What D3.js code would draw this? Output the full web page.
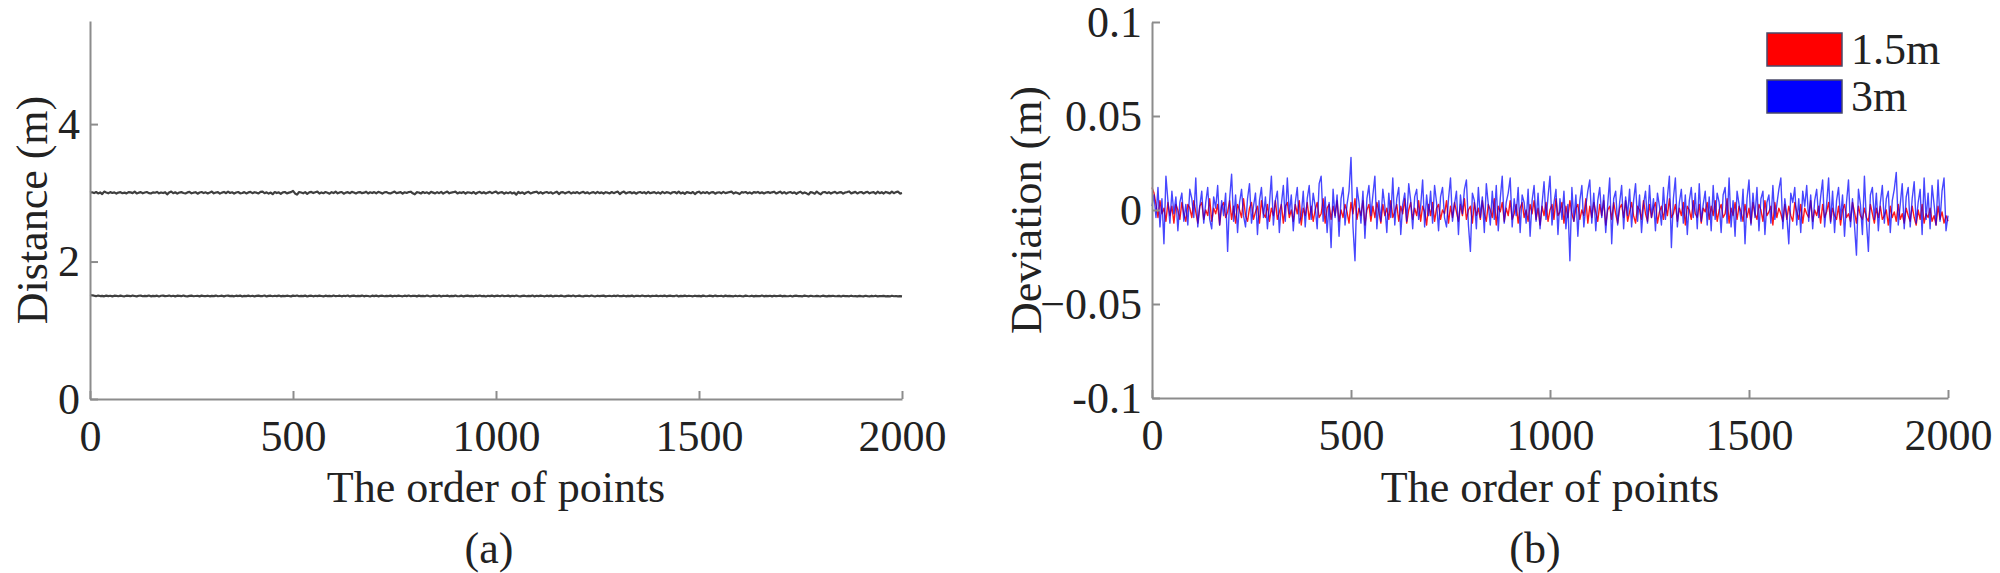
<!DOCTYPE html>
<html>
<head>
<meta charset="utf-8">
<script src="https://cdn.jsdelivr.net/npm/d3@7/dist/d3.min.js"></script>
<style>
  html, body { margin: 0; padding: 0; background: #fff; }
  svg { display: block; }
  svg text { font-family: "Liberation Serif", "Times New Roman", Times, serif !important; fill: #222; }
</style>
</head>
<body>
<svg id="chart" width="2000" height="573" font-family="Liberation Serif"></svg>
<script>
// ---------- data ----------
const pointStep = 5;                // values read every 5th point
const xTicks = [0, 500, 1000, 1500, 2000];
const xTickLabels = ["0", "500", "1000", "1500", "2000"];
const distTicks = [0, 2, 4];
const distTickLabels = ["0", "2", "4"];
const devTicks = [-100, -50, 0, 50, 100];          // mm
const devTickLabels = ["-0.1", "\u22120.05", "0", "0.05", "0.1"];
const seriesNames = ["1.5m", "3m"];
const nominal = [1.5, 3.0];                        // m

// deviation of the 1.5 m measurement (mm), one row = 100 points
const dev15 = [
  12, 9, 3, -4, 5, -2, 1, -6, 4, -3, 2, -7, 3, 0, -5, 4, -2, -6, 3, 1,
  -4, 5, -1, -7, 2, 4, -5, 0, -3, 6, -6, 1, -2, 3, -8, 2, 4, -4, -1, 5,
  -5, 2, -7, 3, 0, -4, 6, -3, -6, 1, 4, -5, -1, 2, -7, 5, -2, -4, 3, -6,
  1, -3, 5, -5, -1, 3, -7, 2, 4, -4, 0, -6, 3, -2, 5, -8, 1, -3, 4, -5,
  2, -6, 0, 4, -4, -2, 6, -7, 1, 3, -5, 2, -3, 5, -6, 0, -4, 3, -1, -7,
  4, -2, 6, -5, 1, -3, 5, -8, 0, 3, -6, 2, -4, 4, -1, -7, 3, -3, 1, -5,
  5, -4, -1, 3, -6, 2, -2, 6, -7, 0, 4, -5, 1, -3, 5, -6, 2, -1, -8, 3,
  -3, 4, -6, 1, 3, -5, 0, -2, 5, -7, 2, -4, 4, -1, -6, 3, -3, 6, -5, 0,
  2, -7, 4, -3, 1, -5, 5, -2, -6, 3, 0, -4, 6, -8, 2, -1, 4, -6, 1, -3,
  5, -5, -2, 3, -7, 1, 4, -4, 0, -6, 3, -2, 5, -5, 1, -8, 2, -3, 4, -6,
  0, 3, -5, 6, -3, -1, 4, -7, 2, -4, 5, -2, -6, 1, 3, -5, 0, -3, 6, -7,
  2, -4, 4, -1, -6, 3, -3, 5, -8, 0, 2, -5, 4, -2, -7, 1, 3, -4, 5, -6,
  -1, 4, -3, -7, 2, 0, -5, 5, -2, -6, 3, -4, 1, 4, -7, -1, 2, -5, 3, -3,
  6, -4, -2, 3, -6, 1, -3, 4, -8, 2, 0, -5, 5, -2, -4, 3, -7, 1, -1, 4,
  -5, 2, -3, 5, -6, 0, 3, -4, -2, 6, -7, 1, -3, 4, -5, 2, -1, -6, 3, -4,
  1, -7, 4, -2, -5, 3, 0, -6, 5, -3, -1, 2, -8, 4, -4, 1, -2, -6, 3, -5,
  2, -3, -6, 4, -1, -5, 3, -7, 1, -2, -4, 5, -6, 0, -3, 2, -7, 3, -4, -1,
  4, -6, 1, -3, -5, 2, -8, 0, 3, -4, -2, -6, 4, -1, -7, 2, -3, -5, 1, -4,
  -6, 3, -2, -7, 1, -4, 2, -5, -3, 0, -8, 2, -4, -1, -6, 3, -5, -2, -7, 1,
  -3, -6, 2, -4, -8, 0, -5, 3, -7, -2, -4, 1, -6, -3, -8, 2, -5, -1, -7, -3,
  -6
];
// deviation of the 3 m measurement (mm), one row = 100 points
const dev3 = [
  2, 8, -4, 12, -9, 6, -18, 18, 5, -7, 10, -2, 7, -11, 4, 9, -6, 3, -8, 11,
  6, -4, 17, -9, 2, 10, -7, 4, 12, -5, -10, 7, 1, 13, -8, 5, -3, 9, -22, 6,
  19, -6, 8, -12, 4, 11, -3, -9, 6, 14, -7, 2, 9, -13, 5, 12, -4, 7, -10, 3,
  18, -8, 5, 10, -12, 3, 13, -6, 17, -2, 8, -11, 4, 12, -7, -3, 10, -9, 6, 13,
  -5, 9, 2, -10, 14, 18, -6, 7, -12, 4, -20, 11, -4, 8, -14, 6, 12, -8, 3, 10,
  28, -9, -27, 12, 4, -7, 10, -15, 6, 13, -3, 8, 18, -10, 5, -6, 11, 2, -12, 9,
  -4, 17, -8, 6, 12, -13, 3, 9, -6, 14, 5, -10, 7, 11, -5, 2, 16, -9, 8, -3,
  10, -7, 13, 4, -11, 7, 12, -4, -9, 6, 17, -6, 3, 10, -13, 8, -2, 11, 16, -8,
  -22, 9, 5, -10, 12, -4, 7, -12, 14, 3, -8, 10, -5, 13, -11, 6, 18, -7, 4, 9,
  17, -9, 6, -3, 12, -12, 8, 4, -7, 11, -14, 5, 13, -6, 9, -10, 3, 15, -5, 7,
  18, -8, 4, 11, -13, 6, -5, 10, -10, 3, -27, 12, -6, 8, -14, 5, 13, -9, 2, 10,
  16, -7, 9, -11, 5, 12, -4, 8, -12, 3, 17, -18, 6, 10, -8, 4, 13, -10, 7, -3,
  11, -9, 5, 14, -6, 8, -12, 3, 10, -7, 13, -4, 6, -11, 9, 2, -8, 12, -5, 7,
  18, -20, 6, 17, -9, 4, 11, -7, 8, -13, 5, 12, -4, 9, -10, 14, -6, 3, 10, -8,
  7, -11, 13, -5, 9, 4, -12, 8, 12, -7, 17, -9, 5, -14, 10, 3, -6, 11, -18, 6,
  16, -8, 9, -4, 12, -11, 6, 10, -13, 4, 8, -7, 13, -5, 3, 11, 17, -10, 6, -3,
  -18, 9, 4, 12, -8, 6, -12, 10, 2, 13, -6, 8, -10, 5, 11, -4, 7, 16, -9, 3,
  17, -7, 10, -12, 5, 12, -5, 8, -14, 4, 16, -9, 6, -8, -24, 11, 3, -13, 18, -6,
  -22, 8, 12, -5, 9, -11, 4, 13, -7, 6, 10, -12, 5, 11, 20, -8, 3, 14, -10, 7,
  12, -9, 6, 15, -7, 4, 11, -13, 17, -5, 9, -10, 13, 3, -8, 16, -6, 10, 17, -11,
  -3
];
const devSeries = [dev15, dev3];
const devColors = ["#ff0000", "#0000ff"];

// ---------- layout ----------
const svg = d3.select("#chart");
const FS = 44;
const FONT = '"Liberation Serif", "Times New Roman", Times, serif';
const axisColor = "#8c8c8c";

function styleAxis(g) {
  g.attr("font-family", FONT);
  g.selectAll(".domain").attr("stroke", axisColor).attr("stroke-width", 2);
  g.selectAll(".tick line").attr("stroke", axisColor).attr("stroke-width", 2);
  g.selectAll("text").style("font-size", FS + "px").attr("fill", "#222");
}

function addText(g, x, y, str, anchor) {
  return g.append("text").attr("x", x).attr("y", y)
    .attr("text-anchor", anchor || "middle")
    .attr("font-family", FONT).style("font-size", FS + "px").text(str);
}

function panel(opts) {
  const { left, right, top, bottom } = opts;
  const x = d3.scaleLinear().domain([0, 2000]).range([left, right]);
  const y = d3.scaleLinear().domain(opts.yDomain).range([bottom, top]);
  const g = svg.append("g");

  opts.series.forEach(s => {
    const line = d3.line().x((d, j) => x(j * pointStep)).y(d => y(s.value(d)));
    g.append("path").datum(s.data)
      .attr("fill", "none")
      .attr("stroke", s.color)
      .attr("stroke-width", s.width)
      .attr("stroke-opacity", s.opacity)
      .attr("stroke-linejoin", "round")
      .attr("d", line);
  });

  const xa = g.append("g").attr("transform", `translate(0,${bottom})`)
    .call(d3.axisBottom(x).tickValues(xTicks).tickFormat((d, i) => xTickLabels[i])
      .tickSizeInner(-8).tickSizeOuter(0));
  styleAxis(xa);
  xa.selectAll("text").attr("dy", null).attr("y", 52);

  const ya = g.append("g").attr("transform", `translate(${left},0)`)
    .call(d3.axisLeft(y).tickValues(opts.yTicks).tickFormat((d, i) => opts.yLabels[i])
      .tickSizeInner(-8).tickSizeOuter(0));
  styleAxis(ya);
  ya.selectAll("text").attr("x", -10).attr("dy", "0.32em");

  addText(g, (left + right) / 2, 502, "The order of points");
  addText(g, opts.capX, 563, opts.caption);
  addText(g, 0, 0, opts.yTitle)
    .attr("transform", `translate(${opts.yTitleX},${(top + bottom) / 2}) rotate(-90)`);
  return { x, y, g };
}

// (a) distance
panel({
  left: 90, right: 902, top: 21, bottom: 399,
  yDomain: [0, 5.5], yTicks: distTicks, yLabels: distTickLabels,
  yTitle: "Distance (m)", yTitleX: 47, caption: "(a)", capX: 489,
  series: devSeries.map((s, i) => ({
    data: s, value: d => nominal[i] + d / 1000,
    color: "#2a2a2a", width: 2.2, opacity: 0.9
  }))
});

// (b) deviation
panel({
  left: 1152, right: 1948, top: 22, bottom: 398,
  yDomain: [-100, 100], yTicks: devTicks, yLabels: devTickLabels,
  yTitle: "Deviation (m)", yTitleX: 1041, caption: "(b)", capX: 1535,
  series: devSeries.map((s, i) => ({
    data: s, value: d => d,
    color: devColors[i], width: 1.4, opacity: i === 0 ? 0.9 : 0.72
  }))
});

// legend
const lg = svg.append("g");
seriesNames.forEach((name, i) => {
  const yy = 33 + i * 47;
  lg.append("rect").attr("x", 1767).attr("y", yy).attr("width", 75).attr("height", 33)
    .attr("fill", devColors[i]).attr("stroke", "#4a4a6a").attr("stroke-width", 1.5);
  addText(lg, 1851, yy + 31, name, "start");
});
</script>
</body>
</html>
